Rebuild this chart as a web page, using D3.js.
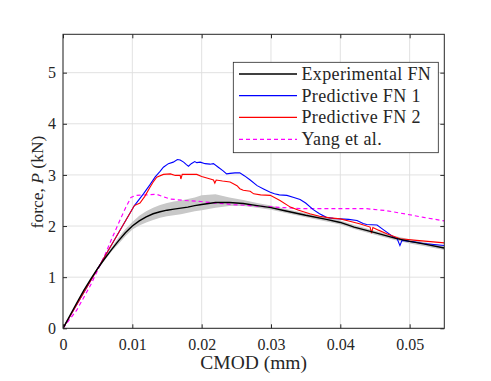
<!DOCTYPE html>
<html><head><meta charset="utf-8">
<script src="https://cdn.jsdelivr.net/npm/d3@7"></script>
<style>body{margin:0;background:#fff}svg{display:block}</style>
</head><body><svg id="c" width="491" height="381"></svg>
<script>
const xTicks=[0,0.01,0.02,0.03,0.04,0.05];
const yTicks=[0,1,2,3,4,5];
const xTickLabels=["0","0.01","0.02","0.03","0.04","0.05"];
const yTickLabels=["0","1","2","3","4","5"];
const seriesNames=["Experimental FN","Predictive FN 1","Predictive FN 2","Yang et al."];

const expX=[0,0.001,0.002,0.003,0.004,0.005,0.006,0.007,0.008,0.009,0.010,0.011,0.012,0.013,0.014,0.015,0.016,0.017,0.018,0.019,0.020,0.022,0.024,0.026,0.028,0.030,0.032,0.035,0.038,0.040,0.042,0.045,0.048,0.050,0.052,0.055];
const expY=[0,0.25,0.50,0.74,0.96,1.17,1.36,1.54,1.71,1.87,2.00,2.10,2.18,2.24,2.28,2.31,2.33,2.35,2.37,2.40,2.42,2.46,2.46,2.44,2.40,2.36,2.30,2.21,2.13,2.07,1.98,1.87,1.76,1.70,1.65,1.57];
const expLow=[0,0.25,0.50,0.74,0.95,1.15,1.33,1.50,1.65,1.80,1.93,2.01,2.07,2.12,2.16,2.19,2.21,2.23,2.26,2.29,2.31,2.36,2.39,2.39,2.36,2.32,2.26,2.17,2.09,2.03,1.94,1.83,1.72,1.66,1.61,1.53];
const expHigh=[0,0.25,0.50,0.74,0.97,1.19,1.39,1.58,1.77,1.94,2.08,2.20,2.29,2.36,2.41,2.45,2.48,2.50,2.53,2.56,2.60,2.62,2.56,2.51,2.45,2.40,2.34,2.25,2.17,2.11,2.02,1.91,1.80,1.74,1.69,1.61];

const fn1X=[0,0.0103,0.0116,0.0125,0.0133,0.0140,0.01448,0.0152,0.0159,0.0165,0.0169,0.0174,0.0178,0.0181,0.0185,0.0190,0.0193,0.0198,0.0205,0.0212,0.0217,0.0224,0.0231,0.0236,0.0241,0.0248,0.0255,0.0262,0.0270,0.0280,0.0290,0.0299,0.0305,0.0312,0.0323,0.0333,0.0342,0.0350,0.0361,0.0370,0.0380,0.0390,0.0400,0.0412,0.0424,0.0433,0.0438,0.0453,0.0460,0.0467,0.0475,0.0482,0.0486,0.0489,0.0500,0.0506,0.0520,0.0550];
const fn1Y=[0,2.40,2.63,2.80,2.96,3.07,3.15,3.22,3.25,3.30,3.29,3.25,3.20,3.17,3.22,3.26,3.24,3.25,3.22,3.21,3.22,3.15,3.08,3.02,3.03,3.04,3.04,2.98,2.90,2.79,2.72,2.66,2.63,2.61,2.60,2.56,2.52,2.45,2.32,2.24,2.17,2.15,2.14,2.13,2.11,2.05,2.03,2.02,1.95,1.88,1.80,1.75,1.62,1.72,1.70,1.69,1.66,1.62];

const fn2X=[0,0.0103,0.0111,0.0118,0.01255,0.0131,0.01352,0.01448,0.0155,0.0162,0.0169,0.0170,0.0172,0.0180,0.0193,0.0200,0.0210,0.0217,0.0219,0.0221,0.0230,0.0241,0.0251,0.0255,0.0260,0.0270,0.0275,0.0285,0.0299,0.0313,0.0328,0.0340,0.0356,0.0370,0.0385,0.0400,0.0415,0.0429,0.0443,0.0445,0.0447,0.0455,0.0467,0.0486,0.0510,0.0550];
const fn2Y=[0,2.40,2.45,2.58,2.76,2.88,2.955,3.01,3.02,2.99,2.99,2.92,3.01,3.01,3.01,2.97,2.93,2.90,2.84,2.90,2.88,2.86,2.79,2.73,2.70,2.68,2.63,2.61,2.60,2.50,2.37,2.31,2.24,2.19,2.16,2.14,2.09,2.04,1.98,1.86,1.97,1.92,1.85,1.75,1.72,1.67];

const yangX=[0,0.002,0.004,0.006,0.007,0.008,0.009,0.0098,0.0105,0.012,0.0135,0.0154,0.0175,0.0198,0.0220,0.0246,0.0270,0.0294,0.0320,0.0342,0.0390,0.0438,0.0467,0.0496,0.0520,0.0550];
const yangY=[0,0.36,0.85,1.42,1.74,2.05,2.35,2.56,2.60,2.61,2.62,2.53,2.50,2.48,2.45,2.42,2.40,2.38,2.36,2.34,2.34,2.34,2.30,2.23,2.17,2.10];

const FONT="Liberation Serif";
const TXT="#262626";
const svg=d3.select("#c");
const L=63,R=444.3,T=34.3,B=328.3;
const x=d3.scaleLinear().domain([0,0.055]).range([L,R]);
const y=d3.scaleLinear().domain([0,5.75]).range([B,T]);

// grid
const g=svg.append("g");
g.selectAll(".gx").data(xTicks).join("line").attr("x1",d=>x(d)).attr("x2",d=>x(d)).attr("y1",T).attr("y2",B).attr("stroke","#dedede").attr("stroke-width",0.9);
g.selectAll(".gy").data(yTicks).join("line").attr("y1",d=>y(d)).attr("y2",d=>y(d)).attr("x1",L).attr("x2",R).attr("stroke","#dedede").attr("stroke-width",0.9);

// band
const band=expX.map((d,i)=>({x:d,lo:expLow[i],hi:expHigh[i]}));
svg.append("path").datum(band).attr("d",d3.area().x(d=>x(d.x)).y0(d=>y(d.lo)).y1(d=>y(d.hi))).attr("fill","#c8c8c8");

const line=d3.line().x(d=>x(d[0])).y(d=>y(d[1]));
svg.append("clipPath").attr("id","cp").append("rect").attr("x",L).attr("y",T).attr("width",R-L).attr("height",B-T);
const P=svg.append("g").attr("clip-path","url(#cp)");
P.append("path").datum(yangX.map((d,i)=>[d,yangY[i]])).attr("d",line).attr("fill","none").attr("stroke","#ff00ff").attr("stroke-width",1.2).attr("stroke-dasharray","4,3");
P.append("path").datum(fn1X.map((d,i)=>[d,fn1Y[i]])).attr("d",line).attr("fill","none").attr("stroke","#0000ff").attr("stroke-width",1.1);
P.append("path").datum(fn2X.map((d,i)=>[d,fn2Y[i]])).attr("d",line).attr("fill","none").attr("stroke","#ff0000").attr("stroke-width",1.1);
P.append("path").datum(expX.map((d,i)=>[d,expY[i]])).attr("d",line).attr("fill","none").attr("stroke","#000").attr("stroke-width",1.4);

// axes
const ax=svg.append("g").attr("transform",`translate(0,${B})`).call(d3.axisBottom(x).tickValues(xTicks).tickFormat((d,i)=>xTickLabels[i]).tickSize(-4).tickPadding(10));
const ay=svg.append("g").attr("transform",`translate(${L},0)`).call(d3.axisLeft(y).tickValues(yTicks).tickFormat((d,i)=>yTickLabels[i]).tickSize(-4).tickPadding(7));
const axT=svg.append("g").attr("transform",`translate(0,${T})`).call(d3.axisTop(x).tickValues(xTicks).tickFormat("").tickSize(-4));
const ayR=svg.append("g").attr("transform",`translate(${R},0)`).call(d3.axisRight(y).tickValues(yTicks).tickFormat("").tickSize(-4));
[ax,ay,axT,ayR].forEach(a=>{a.attr("font-family",FONT).attr("font-size",16);a.select(".domain").remove();a.selectAll("line").attr("stroke","#262626");a.selectAll("text").attr("font-family",FONT).attr("font-size",16).attr("fill",TXT);});
svg.append("rect").attr("x",L).attr("y",T).attr("width",R-L).attr("height",B-T).attr("fill","none").attr("stroke","#262626").attr("stroke-width",1);

// labels
svg.append("text").attr("x",(L+R)/2).attr("y",369).attr("text-anchor","middle").attr("font-family",FONT).attr("font-size",19.5).attr("fill",TXT).text("CMOD (mm)");
const yl=svg.append("text").attr("transform",`translate(43,182) rotate(-90)`).attr("text-anchor","middle").attr("font-family",FONT).attr("font-size",17.5).attr("fill",TXT);
yl.append("tspan").text("force, ");
yl.append("tspan").attr("font-style","italic").text("P");
yl.append("tspan").text(" (kN)");

// legend
const lg=svg.append("g");
lg.append("rect").attr("x",233.3).attr("y",62.3).attr("width",205).attr("height",90.4).attr("fill","#fff").attr("stroke","#262626").attr("stroke-width",0.8);
const cols=["#000","#0000ff","#ff0000","#ff00ff"];
const ly=[74,95.7,117.3,139.3];
seriesNames.forEach((n,i)=>{
  lg.append("line").attr("x1",239).attr("x2",297).attr("y1",ly[i]).attr("y2",ly[i]).attr("stroke",cols[i]).attr("stroke-width",1.3).attr("stroke-dasharray",i===3?"4,3":null);
  lg.append("text").attr("x",301.5).attr("y",ly[i]+6).attr("font-family",FONT).attr("font-size",18).attr("letter-spacing",0.35).attr("fill",TXT).text(n);
});
</script></body></html>
